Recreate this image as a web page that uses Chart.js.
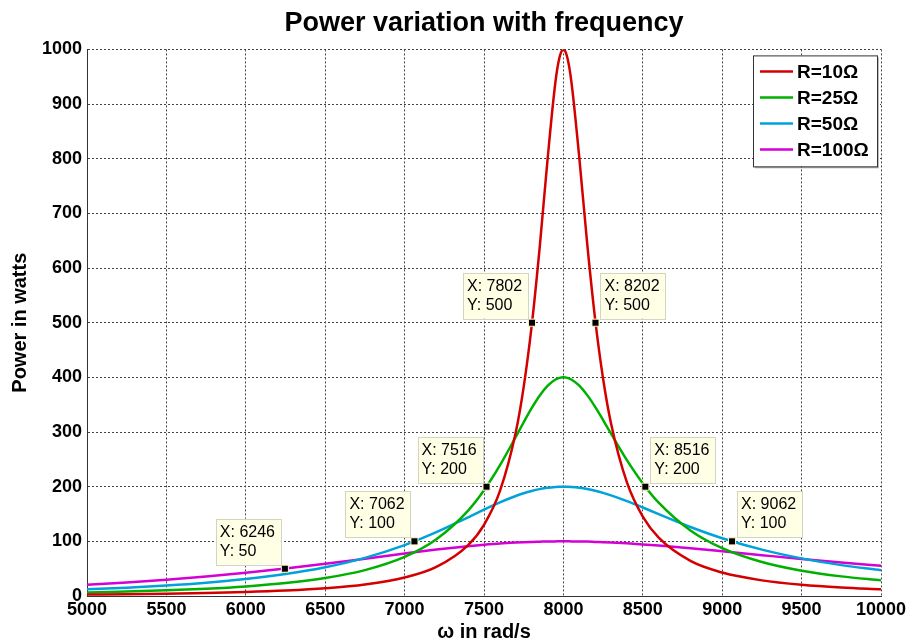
<!DOCTYPE html>
<html>
<head>
<meta charset="utf-8">
<title>Power variation with frequency</title>
<script src="https://cdn.jsdelivr.net/npm/chart.js@4.4.1/dist/chart.umd.min.js"></script>
<style>
  html, body { margin: 0; padding: 0; background: #fff; }
  #wrap { width: 912px; height: 644px; }
</style>
</head>
<body>
<div id="wrap"><canvas id="powerChart" width="912" height="644"></canvas></div>
<script>
// omega values (rad/s) the curves were read at
const omega = [5000, 5250, 5500, 5750, 6000, 6250, 6500, 6750, 7000, 7200, 7400, 7500, 7600, 7700, 7750, 7800, 7850, 7900, 7950, 7975,
  8000, 8025, 8050, 8100, 8150, 8200, 8250, 8300, 8400, 8500, 8600, 8800, 9000, 9250, 9500, 9750, 10000];

// power in watts for each resistance
const p10 = [2.6, 3.3, 4.2, 5.5, 7.3, 10.0, 14.1, 21.0, 33.7, 53.1, 93.1, 130.3, 191.8, 299.6, 382.7, 493.6, 635.6, 798.0, 940.8, 984.6,
  1000, 984.7, 941.5, 802.0, 644.2, 506.1, 397.5, 315.6, 207.8, 145.2, 106.6, 64.2, 42.9, 28.6, 20.5, 15.5, 12.2];
const p25 = [6.5, 8.1, 10.4, 13.4, 17.6, 23.6, 32.8, 47.3, 71.5, 103.8, 156.3, 193.4, 238.9, 291.1, 317.9, 343.6, 366.4, 384.4, 396.0, 399.0,
  400, 399.0, 396.1, 384.8, 367.5, 346.0, 321.9, 296.9, 248.5, 206.0, 170.8, 120.0, 87.6, 62.2, 46.3, 35.9, 28.7];
const p50 = [12.3, 15.3, 19.2, 24.3, 31.0, 40.2, 52.6, 69.8, 93.1, 116.7, 143.9, 157.9, 171.2, 182.9, 187.9, 192.1, 195.5, 198.0, 199.5, 199.9,
  200, 199.9, 199.5, 198.0, 195.7, 192.5, 188.6, 184.0, 173.5, 161.9, 149.8, 126.3, 105.7, 84.8, 68.8, 56.5, 47.2];
const p100 = [20.8, 24.9, 29.8, 35.6, 42.4, 50.1, 58.8, 68.2, 77.7, 84.9, 91.1, 93.7, 96.0, 97.7, 98.4, 99.0, 99.4, 99.8, 99.9, 100,
  100, 100, 99.9, 99.8, 99.5, 99.0, 98.5, 97.9, 96.3, 94.4, 92.3, 87.3, 81.8, 74.7, 67.7, 61.2, 55.3];

const seriesLabels = ['R=10Ω', 'R=25Ω', 'R=50Ω', 'R=100Ω'];
const seriesColors = ['#d40000', '#00b000', '#00a2da', '#d400d4'];

// data tips
const tipX = [6246, 7062, 7516, 7802, 8202, 8516, 9062];
const tipY = [50, 100, 200, 500, 500, 200, 100];

const FONT = 'Arial, "Liberation Sans", sans-serif';

function pts(ys) {
  return omega.map((x, i) => ({ x: x, y: ys[i] }));
}

// legend box in the upper right corner of the plot
const boxLegend = {
  id: 'boxLegend',
  afterDatasetsDraw(chart) {
    const ctx = chart.ctx;
    const area = chart.chartArea;
    const w = 124, h = 111;
    const left = area.right - 4 - w, top = area.top + 6;
    ctx.save();
    ctx.fillStyle = 'rgba(0,0,0,0.25)';
    ctx.fillRect(left + 2, top + 2, w, h);
    ctx.fillStyle = '#fff';
    ctx.fillRect(left, top, w, h);
    ctx.strokeStyle = '#333';
    ctx.lineWidth = 1;
    ctx.strokeRect(left + 0.5, top + 0.5, w, h);
    ctx.font = 'bold 19px ' + FONT;
    ctx.textBaseline = 'middle';
    ctx.textAlign = 'left';
    for (let i = 0; i < seriesLabels.length; i++) {
      const y = top + 16 + i * 26;
      ctx.strokeStyle = seriesColors[i];
      ctx.lineWidth = 2.5;
      ctx.beginPath();
      ctx.moveTo(left + 7, y);
      ctx.lineTo(left + 40, y);
      ctx.stroke();
      ctx.fillStyle = '#000';
      ctx.fillText(seriesLabels[i], left + 44, y + 1);
    }
    ctx.restore();
  }
};

// yellow data-tip boxes next to the black markers
const tipBoxes = {
  id: 'tipBoxes',
  afterDatasetsDraw(chart) {
    const ctx = chart.ctx;
    const xs = chart.scales.x, ys = chart.scales.y;
    const w = 65, h = 46;
    ctx.save();
    ctx.font = '16px ' + FONT;
    ctx.textBaseline = 'alphabetic';
    ctx.textAlign = 'left';
    for (let i = 0; i < tipX.length; i++) {
      const px = xs.getPixelForValue(tipX[i]);
      const py = ys.getPixelForValue(tipY[i]);
      const left = tipX[i] < 8000 ? px - 4 - w : px + 5;
      const top = py - 4 - h;
      ctx.fillStyle = '#ffffe6';
      ctx.fillRect(left, top, w, h);
      ctx.strokeStyle = '#d4d4c4';
      ctx.lineWidth = 1;
      ctx.strokeRect(Math.round(left) + 0.5, Math.round(top) + 0.5, w, h);
      ctx.fillStyle = '#000';
      ctx.fillText('X: ' + tipX[i], left + 4, top + 18);
      ctx.fillText('Y: ' + tipY[i], left + 4, top + 37);
    }
    ctx.restore();
  }
};

document.addEventListener('DOMContentLoaded', () => {
  const ctx = document.getElementById('powerChart').getContext('2d');
  const curveSets = [p10, p25, p50, p100].map((ys, i) => ({
    label: seriesLabels[i],
    data: pts(ys),
    borderColor: seriesColors[i],
    backgroundColor: seriesColors[i],
    borderWidth: 2.5,
    pointRadius: 0,
    cubicInterpolationMode: 'monotone',
    fill: false,
    order: 1
  }));
  const tipSet = {
    label: 'tips',
    data: tipX.map((x, i) => ({ x: x, y: tipY[i] })),
    showLine: false,
    pointStyle: 'rect',
    pointRadius: 5,
    pointBackgroundColor: '#000',
    pointBorderColor: '#fff8c0',
    pointBorderWidth: 1,
    order: 0
  };

  new Chart(ctx, {
    type: 'line',
    data: { datasets: curveSets.concat([tipSet]) },
    options: {
      responsive: false,
      animation: false,
      layout: { padding: { left: 0, right: 31, top: 0, bottom: 0 } },
      plugins: {
        legend: { display: false },
        tooltip: { enabled: false },
        title: {
          display: true,
          fullSize: false,
          text: 'Power variation with frequency',
          color: '#000',
          font: { family: FONT, size: 27, weight: 'bold', lineHeight: 1.2 },
          padding: { top: 7, bottom: 10 }
        }
      },
      scales: {
        x: {
          type: 'linear',
          min: 5000,
          max: 10000,
          afterFit: (scale) => { scale.height = 48; },
          ticks: {
            stepSize: 500,
            padding: 3,
            color: '#000',
            maxRotation: 0,
            callback: (v) => String(v),
            font: { family: FONT, size: 18, weight: 'bold' }
          },
          grid: { color: '#444', lineWidth: 1, drawTicks: false },
          border: { display: true, color: '#333', width: 1, dash: [2, 2] },
          title: {
            display: true,
            text: 'ω in rad/s',
            color: '#000',
            font: { family: FONT, size: 20, weight: 'bold' },
            padding: { top: 0, bottom: 0 }
          }
        },
        y: {
          min: 0,
          max: 1000,
          afterFit: (scale) => { scale.width = 87; },
          ticks: {
            stepSize: 100,
            padding: 5,
            color: '#000',
            callback: (v) => String(v),
            font: { family: FONT, size: 18, weight: 'bold' }
          },
          grid: { color: '#444', lineWidth: 1, drawTicks: false },
          border: { display: true, color: '#333', width: 1, dash: [2, 2] },
          title: {
            display: true,
            text: 'Power in watts',
            color: '#000',
            font: { family: FONT, size: 20, weight: 'bold' },
            padding: { top: 8, bottom: 0 }
          }
        }
      }
    },
    plugins: [tipBoxes, boxLegend]
  });
});
</script>
</body>
</html>
